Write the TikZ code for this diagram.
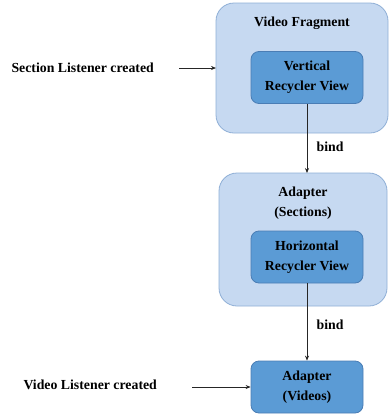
\documentclass[tikz,border=0pt]{standalone}
\usepackage{fontspec}
\setmainfont{Liberation Serif}
\usetikzlibrary{arrows.meta}
\definecolor{outerfill}{HTML}{C6D9F1}
\definecolor{outerdraw}{HTML}{8FAFD6}
\definecolor{innerfill}{HTML}{5B9BD5}
\definecolor{innerdraw}{HTML}{4A7DB5}
\begin{document}
\begin{tikzpicture}[x=1pt,y=-1pt,
  outerbox/.style={draw=outerdraw,fill=outerfill,line width=0.8pt,rounded corners=18pt},
  innerbox/.style={draw=innerdraw,fill=innerfill,line width=0.8pt,rounded corners=8pt,minimum width=112pt,minimum height=52pt,align=center,font=\bfseries\fontsize{13.8}{20}\selectfont},
  lbl/.style={font=\bfseries\fontsize{13.8}{20}\selectfont,align=center},
  conn/.style={-{Stealth[length=5pt,width=4pt]},line width=0.7pt,draw=black!85}]
\useasboundingbox (0,0) rectangle (390,418);
\draw[outerbox] (216,3) rectangle (388,133);
\node[lbl] (vf) at (302,23) {Video Fragment};
\node[innerbox] (vrv) at (307,77.5) {Vertical\\Recycler View};
\coordinate (o1w) at (216,68);
\draw[outerbox] (219,173) rectangle (387,306);
\node[lbl] (ad1) at (303,203) {Adapter\\(Sections)};
\node[innerbox] (hrv) at (307,257) {Horizontal\\Recycler View};
\node[innerbox] (ad2) at (307,387) {Adapter\\(Videos)};
\coordinate (o2n) at (307,173);
\node[lbl,anchor=west] (sl) at (8,68) {Section Listener created};
\node[lbl,anchor=west] (vl) at (20,385) {Video Listener created};
\coordinate (s1) at (179,68);
\coordinate (s2) at (192,387);
\draw[conn] (s1) -- (o1w);
\draw[conn] (s2) -- (ad2.west |- s2);
\draw[conn] (vrv.south) -- node[lbl,right,xshift=6pt,yshift=-8pt] (b1) {bind} (o2n);
\draw[conn] (hrv.south) -- node[lbl,right,xshift=6pt,yshift=-3pt] (b2) {bind} (ad2.north);
\end{tikzpicture}
\end{document}
